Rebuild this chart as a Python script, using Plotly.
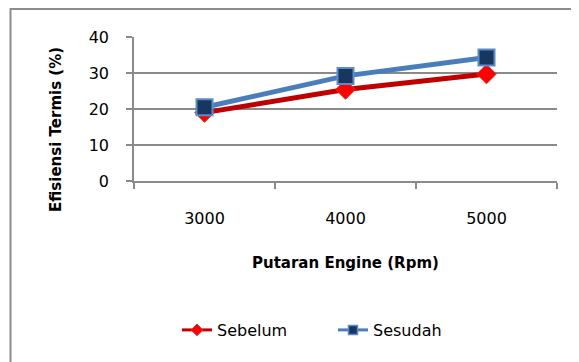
import plotly.graph_objects as go

categories = ["3000", "4000", "5000"]
sebelum = [19.0, 25.4, 29.7]
sesudah = [20.5, 29.2, 34.3]
y_ticks = [0, 10, 20, 30, 40]
x_title = "Putaran Engine (Rpm)"
y_title = "Efisiensi Termis (%)"

# page offset (default body margin of the html page)
OFF = 8
W, H = 579, 362
# plot area in page pixels: x 134..557, y 37..181
L = 134 - OFF
T = 37 - OFF
R = W - (557 - OFF)
B = H - (181 - OFF)
pw, ph = W - L - R, H - T - B

def px_x(p):
    return (p - OFF - L) / pw

def px_y(p):
    return (H - B - (p - OFF)) / ph

red_line = "#C00000"
red_fill = "#FF0000"
blue_line = "#4A7EBB"
blue_fill = "#17375E"

fig = go.Figure()
fig.add_trace(go.Scatter(
    x=categories, y=sebelum, mode="lines+markers", name="Sebelum", showlegend=False,
    line=dict(color=red_line, width=5),
    marker=dict(symbol="diamond", size=15, color=red_fill, line=dict(color="#D83030", width=1)),
))
fig.add_trace(go.Scatter(
    x=categories, y=sesudah, mode="lines+markers", name="Sesudah", showlegend=False,
    line=dict(color=blue_line, width=5),
    marker=dict(symbol="square", size=16, color=blue_fill, line=dict(color="#5B8BC9", width=2)),
))
# legend-only entries with smaller symbols
fig.add_trace(go.Scatter(
    x=[None], y=[None], mode="lines+markers", name="Sebelum",
    line=dict(color=red_line, width=3),
    marker=dict(symbol="diamond", size=9, color=red_fill, line=dict(color="#D83030", width=1)),
))
fig.add_trace(go.Scatter(
    x=[None], y=[None], mode="lines+markers", name="Sesudah",
    line=dict(color=blue_line, width=3),
    marker=dict(symbol="square", size=9, color=blue_fill, line=dict(color="#5B8BC9", width=1.5)),
))

fig.update_layout(
    width=W, height=H,
    margin=dict(l=L, r=R, t=T, b=B),
    paper_bgcolor="white", plot_bgcolor="white",
    font=dict(family="DejaVu Sans", size=16, color="#000000"),
    showlegend=True,
    legend=dict(orientation="h", x=px_x(177), xanchor="left", y=px_y(330), yanchor="middle",
                font=dict(size=16), entrywidth=111, entrywidthmode="pixels",
                bgcolor="rgba(0,0,0,0)"),
    xaxis=dict(type="category", tickson="boundaries", ticks="outside", ticklen=6,
               tickcolor="#8a8a8a", tickwidth=1.5, showline=True, linecolor="#8a8a8a", linewidth=1.5,
               showgrid=False, ticklabelstandoff=22, tickfont=dict(size=16),
               range=[-0.5, 2.5], fixedrange=True),
    yaxis=dict(range=[0, 40], tickvals=y_ticks, ticks="outside", ticklen=6,
               tickcolor="#8a8a8a", tickwidth=1.5, showline=True, linecolor="#8a8a8a", linewidth=1.5,
               showgrid=True, gridcolor="#8a8a8a", gridwidth=1.5, zeroline=False,
               ticklabelstandoff=14, tickfont=dict(size=16)),
    annotations=[
        dict(text="<b>" + x_title + "</b>", xref="paper", yref="paper", x=px_x(345), y=px_y(263),
             xanchor="center", yanchor="middle", showarrow=False, font=dict(size=15)),
        dict(text="<b>" + y_title + "</b>", xref="paper", yref="paper", x=px_x(56), y=px_y(130),
             xanchor="center", yanchor="middle", showarrow=False, textangle=-90, font=dict(size=15)),
    ],
    shapes=[
        dict(type="rect", xref="paper", yref="paper", x0=px_x(10.5), x1=px_x(620), y0=px_y(420), y1=px_y(9),
             line=dict(color="#8c8c8c", width=2), fillcolor="rgba(0,0,0,0)", layer="below"),
    ],
)

fig.write_html("out.html")
